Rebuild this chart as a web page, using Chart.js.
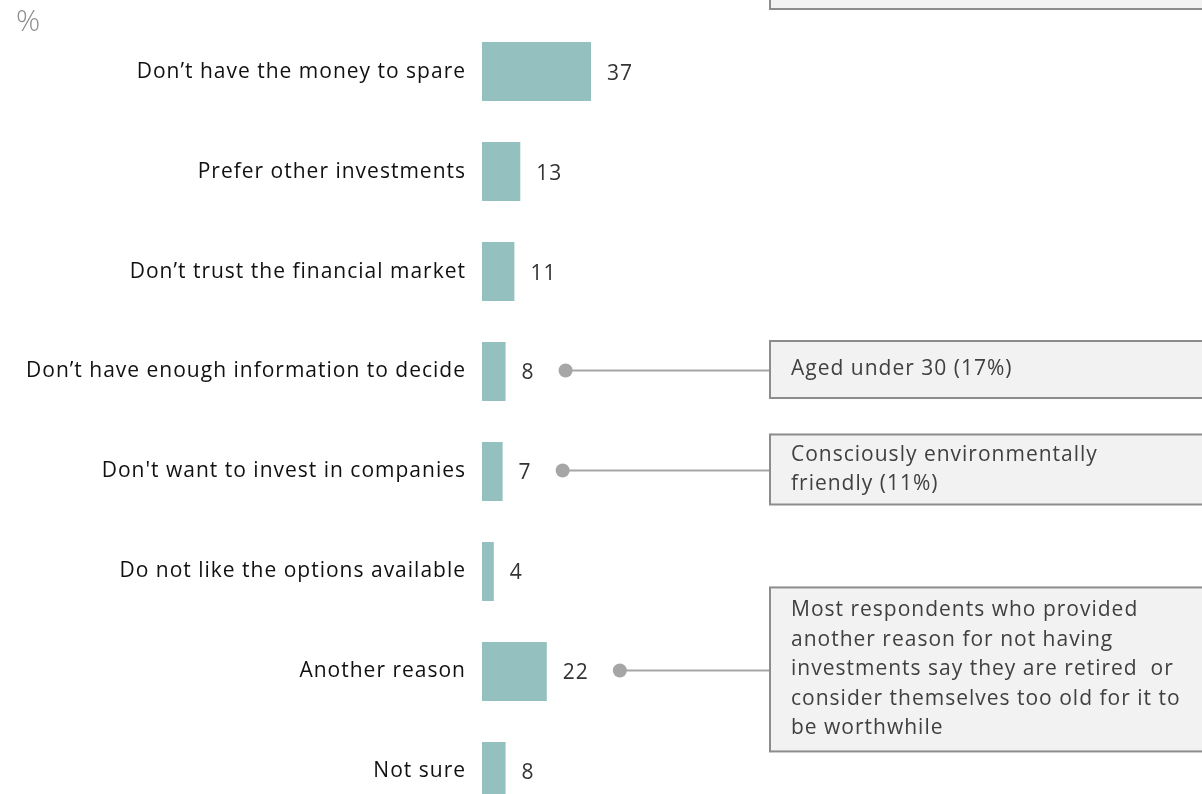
<!DOCTYPE html>
<html>
<head>
<meta charset="utf-8">
<script src="https://cdn.jsdelivr.net/npm/chart.js@4.4.0/dist/chart.umd.min.js"></script>
<style>
  html, body { margin: 0; padding: 0; background: #fff; overflow: hidden; }
  #wrap { position: relative; width: 1202px; height: 857px; margin-top: -7px; }
</style>
</head>
<body>
<div id="wrap"><canvas id="reasons"></canvas></div>
<script>
// reasons for not having investments, %
const categories = [
  'Don\u2019t have the money to spare',
  'Prefer other investments',
  'Don\u2019t trust the financial market',
  'Don\u2019t have enough information to decide',
  'Don\'t want to invest in companies',
  'Do not like the options available',
  'Another reason',
  'Not sure'
];
const values = [37, 13, 11, 8, 7, 4, 22, 8];

// call-out notes: which row they point to, and their text lines
const noteRows = [3, 4, 6];
const noteTexts = [
  ['Aged under 30 (17%)'],
  ['Consciously environmentally', 'friendly (11%)'],
  ['Most respondents who provided', 'another reason for not having',
   'investments say they are retired  or', 'consider themselves too old for it to',
   'be worthwhile']
];
const noteHeights = [57, 70, 164];

const FONT = '"Open Sans", "DejaVu Sans", sans-serif';
const barColor = '#94c1bf';
const SHIFT = 7; // canvas sits 7px above the page top

// the source text is set a little looser than Open Sans
const spacing = {
  id: 'spacing',
  beforeDraw(chart) { chart.ctx.letterSpacing = '1px'; }
};

const callouts = {
  id: 'callouts',
  afterDatasetsDraw(chart) {
    const { ctx, scales: { x, y } } = chart;
    ctx.save();
    ctx.letterSpacing = '1px';

    // value labels
    ctx.font = '21px ' + FONT;
    ctx.fillStyle = '#333';
    ctx.textAlign = 'left';
    ctx.textBaseline = 'middle';
    const labelEnd = [];
    values.forEach((v, i) => {
      const px = x.getPixelForValue(v) + 16;
      const py = y.getPixelForValue(i) + 2;
      ctx.fillText(String(v), px, py);
      labelEnd.push(px + ctx.measureText(String(v)).width);
    });

    // "%" unit
    ctx.letterSpacing = '0px';
    ctx.font = '300 30px ' + FONT;
    ctx.fillStyle = '#8c8c8c';
    ctx.fillText('%', 16, 22 + SHIFT);
    ctx.letterSpacing = '1px';

    const boxLeft = 770;
    const boxRight = 1210;

    // partial box at very top (its text is above the visible area)
    ctx.fillStyle = '#f2f2f2';
    ctx.fillRect(boxLeft, -80, boxRight - boxLeft, 89 + SHIFT);
    ctx.strokeStyle = '#8c8c8c';
    ctx.lineWidth = 2;
    ctx.strokeRect(boxLeft, -80, boxRight - boxLeft, 89 + SHIFT);

    noteRows.forEach((row, k) => {
      const cy = y.getPixelForValue(row);
      const dotX = labelEnd[row] + 31;

      // connector
      ctx.strokeStyle = '#a6a6a6';
      ctx.lineWidth = 2;
      ctx.beginPath();
      ctx.moveTo(dotX, cy - 1);
      ctx.lineTo(boxLeft, cy - 1);
      ctx.stroke();
      ctx.fillStyle = '#a6a6a6';
      ctx.beginPath();
      ctx.arc(dotX, cy - 1, 7, 0, Math.PI * 2);
      ctx.fill();

      // box
      const h = noteHeights[k];
      const top = cy - 2 - h / 2;
      ctx.fillStyle = '#f2f2f2';
      ctx.fillRect(boxLeft, top, boxRight - boxLeft, h);
      ctx.strokeStyle = '#8c8c8c';
      ctx.lineWidth = 2;
      ctx.strokeRect(boxLeft, top, boxRight - boxLeft, h);

      // text
      const lines = noteTexts[k];
      const lh = 29.5;
      const first = cy - 2 - (lines.length - 1) * lh / 2;
      ctx.fillStyle = '#404040';
      ctx.font = '21px ' + FONT;
      ctx.textAlign = 'left';
      ctx.textBaseline = 'middle';
      lines.forEach((t, j) => ctx.fillText(t, 791, first + j * lh));
    });

    ctx.restore();
  }
};

new Chart(document.getElementById('reasons'), {
  type: 'bar',
  data: {
    labels: categories,
    datasets: [{
      data: values,
      backgroundColor: barColor,
      borderWidth: 0,
      categoryPercentage: 1,
      barPercentage: 0.59
    }]
  },
  options: {
    indexAxis: 'y',
    responsive: true,
    maintainAspectRatio: false,
    animation: false,
    layout: { padding: { top: 9.9, bottom: 13.5, left: 0, right: 0 } },
    plugins: {
      legend: { display: false },
      tooltip: { enabled: false }
    },
    scales: {
      x: {
        display: false,
        min: 0,
        max: 244.4
      },
      y: {
        grid: { display: false, drawTicks: false },
        border: { display: false },
        ticks: {
          color: '#111',
          padding: 16,
          font: { family: FONT, size: 21 }
        },
        afterFit(axis) { axis.width = 482; }
      }
    }
  },
  plugins: [spacing, callouts]
});
</script>
</body>
</html>
